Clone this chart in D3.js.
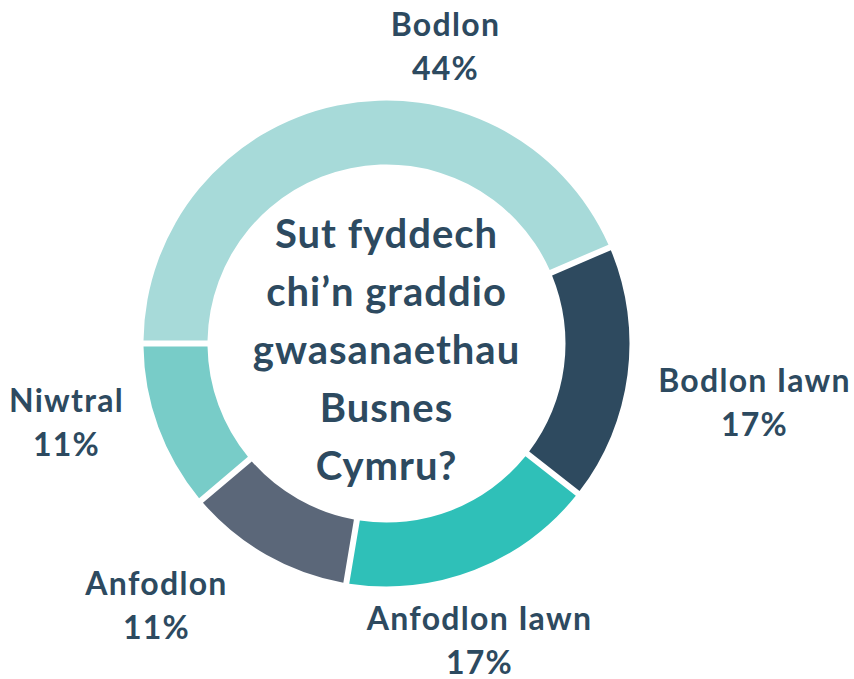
<!DOCTYPE html>
<html>
<head>
<meta charset="utf-8">
<script src="https://cdn.jsdelivr.net/npm/d3@7"></script>
<style>
  body { margin: 0; background: #fff; }
  text { font-family: Lato, "Open Sans", sans-serif; font-weight: 700; fill: #2d4a60; }
</style>
</head>
<body>
<svg width="854" height="679"></svg>
<script>
let svg = d3.select("svg"),
 width = +svg.attr("width"),
 height = +svg.attr("height");

// data, in drawing order (clockwise from 9 o'clock)
let categories = ["Bodlon", "Bodlon Iawn", "Anfodlon Iawn", "Anfodlon", "Niwtral"];
let values = [44, 17, 17, 11, 11];
let colors = ["#a7dad9", "#2e4a5f", "#2fc0b8", "#5b6779", "#78ccc8"];
let question = ["Sut fyddech", "chi\u2019n graddio", "gwasanaethau", "Busnes", "Cymru?"];

// label offsets from the centre of the ring (first baseline)
let labelOffsets = [[59, -308], [368, 48], [93, 286], [-230, 251], [-320, 68]];

let cx = 386.5, cy = 343.5,
 outerR = 243, innerR = 179;

let slices = categories.map(function(c, i) { return {name: c, value: values[i]}; });

let pie = d3.pie()
    .value(function(d) { return d.value; })
    .sort(null)
    .startAngle(-Math.PI / 2)
    .endAngle(Math.PI * 1.5)
    .padAngle(6 / outerR);

let arc = d3.arc()
    .innerRadius(innerR)
    .outerRadius(outerR)
    .padRadius(outerR);

let color = d3.scaleOrdinal().domain(categories).range(colors);

let g = svg.append("g")
    .attr("transform", "translate(" + cx + "," + cy + ")");

g.selectAll("path")
    .data(pie(slices))
    .enter()
    .append("path")
    .attr("d", arc)
    .attr("fill", function(d) { return color(d.data.name); });

// outside labels: name + percent
let labels = g.selectAll("text.label")
    .data(slices)
    .enter()
    .append("text")
    .attr("class", "label")
    .attr("text-anchor", "middle")
    .attr("font-size", 32)
    .attr("letter-spacing", 1.3)
    .attr("transform", function(d, i) {
        return "translate(" + labelOffsets[i][0] + "," + labelOffsets[i][1] + ")";
    });

labels.append("tspan")
    .attr("x", 0)
    .attr("y", 0)
    .text(function(d) { return d.name; });

labels.append("tspan")
    .attr("x", 0)
    .attr("y", 44)
    .text(function(d) { return d.value + "%"; });

// question in the middle
g.append("text")
    .attr("text-anchor", "middle")
    .attr("font-size", 40)
    .attr("letter-spacing", 1)
    .selectAll("tspan")
    .data(question)
    .enter()
    .append("tspan")
    .attr("x", 0)
    .attr("y", function(d, i) { return -96 + i * 58; })
    .text(function(d) { return d; });
</script>
</body>
</html>
